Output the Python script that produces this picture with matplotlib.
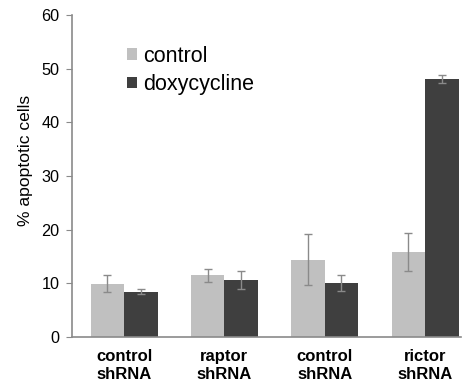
import matplotlib
matplotlib.use("Agg")
import matplotlib.pyplot as plt
import numpy as np

categories = ["control\nshRNA", "raptor\nshRNA", "control\nshRNA", "rictor\nshRNA"]
control_vals = [9.9, 11.5, 14.4, 15.8]
control_err = [1.6, 1.2, 4.8, 3.6]
dox_vals = [8.4, 10.6, 10.0, 48.1]
dox_err = [0.5, 1.6, 1.5, 0.7]
series_names = ["control", "doxycycline"]

plt.rcParams['font.family'] = ['Liberation Sans', 'DejaVu Sans']

fig = plt.figure(figsize=(4.64, 3.85), dpi=100)
ax = fig.add_axes([0.155, 0.125, 0.839, 0.836])

x = np.arange(len(categories))
w = 0.333
light = "#c0c0c0"
dark = "#3f3f3f"
errc = "#8a8a8a"
ax.bar(x - w / 2, control_vals, w, color=light, label=series_names[0],
       yerr=control_err, error_kw=dict(ecolor=errc, elinewidth=1, capsize=3, capthick=1))
ax.bar(x + w / 2, dox_vals, w, color=dark, label=series_names[1],
       yerr=dox_err, error_kw=dict(ecolor=errc, elinewidth=1, capsize=3, capthick=1))

ax.set_xlim(-0.52, 3.36)
ax.set_ylim(0, 60)
ax.set_yticks(range(0, 61, 10))
ax.set_xticks(x)
ax.set_xticklabels(categories, fontweight="bold", fontsize=12, linespacing=1.2)
ax.tick_params(axis="x", length=0, pad=9)
ax.tick_params(axis="y", length=4, color=errc, labelsize=11.7, pad=5)
for s in ["top", "right"]:
    ax.spines[s].set_visible(False)
for s in ["left", "bottom"]:
    ax.spines[s].set_color("#8a8a8a")
    ax.spines[s].set_linewidth(1.2)
ax.set_ylabel("% apoptotic cells", fontsize=12.6)
ax.yaxis.set_label_coords(-0.099, 0.547)

leg = ax.legend(loc="upper left", bbox_to_anchor=(0.12, 0.931), frameon=False,
                fontsize=15.5, handlelength=0.45, handleheight=0.45,
                handletextpad=0.3, labelspacing=0.35, borderaxespad=0)

fig.savefig("out.png", dpi=100)
